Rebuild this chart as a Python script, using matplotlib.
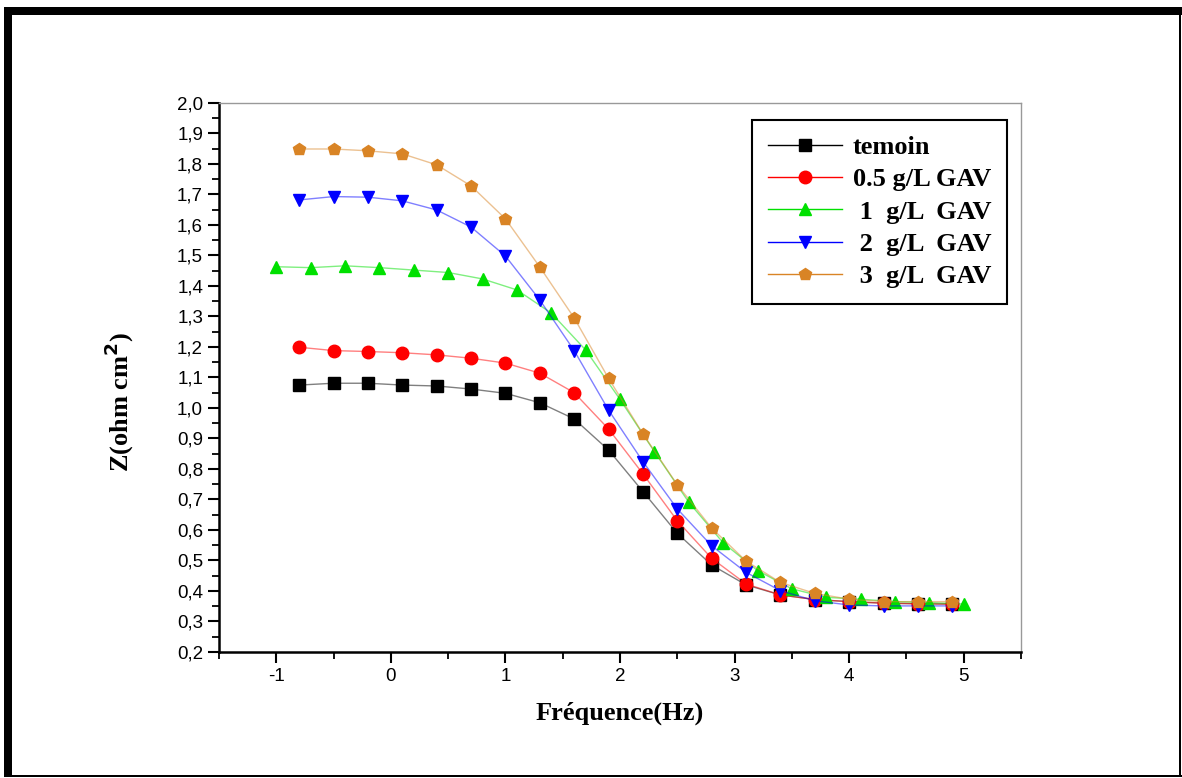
import matplotlib
matplotlib.use("Agg")
import matplotlib.pyplot as plt
from matplotlib.patches import Rectangle
from matplotlib.ticker import MultipleLocator, FuncFormatter

# frequency (log) positions
freq_a = [-0.8, -0.5, -0.2, 0.1, 0.4, 0.7, 1.0, 1.3, 1.6, 1.9,
          2.2, 2.5, 2.8, 3.1, 3.4, 3.7, 4.0, 4.3, 4.6, 4.9]
freq_b = [-1.0, -0.7, -0.4, -0.1, 0.2, 0.5, 0.8, 1.1, 1.4, 1.7, 2.0,
          2.3, 2.6, 2.9, 3.2, 3.5, 3.8, 4.1, 4.4, 4.7, 5.0]

z_temoin = [1.075, 1.081, 1.081, 1.075, 1.072, 1.062, 1.048, 1.017, 0.964, 0.862,
            0.726, 0.589, 0.485, 0.420, 0.387, 0.372, 0.365, 0.360, 0.358, 0.357]
z_05 = [1.199, 1.188, 1.185, 1.181, 1.174, 1.163, 1.147, 1.114, 1.050, 0.931,
        0.784, 0.630, 0.507, 0.423, 0.387, 0.372, 0.365, 0.360, 0.358, 0.357]
z_1 = [1.463, 1.460, 1.466, 1.460, 1.452, 1.444, 1.423, 1.387, 1.311, 1.190, 1.028,
       0.857, 0.691, 0.558, 0.467, 0.407, 0.379, 0.373, 0.365, 0.362, 0.357]
z_2 = [1.682, 1.693, 1.691, 1.679, 1.649, 1.593, 1.498, 1.354, 1.188, 0.993,
       0.824, 0.669, 0.548, 0.461, 0.401, 0.368, 0.354, 0.351, 0.351, 0.351]
z_3 = [1.849, 1.849, 1.843, 1.833, 1.797, 1.728, 1.620, 1.462, 1.295, 1.097,
       0.915, 0.748, 0.606, 0.498, 0.428, 0.392, 0.373, 0.365, 0.365, 0.365]

labels = ["temoin", "0.5 g/L GAV", " 1  g/L  GAV", " 2  g/L  GAV", " 3  g/L  GAV"]

fig = plt.figure(figsize=(11.82, 7.78), dpi=100)
ax = fig.add_axes([0.1853, 0.1620, 0.6785, 0.7057])

series = [
    (freq_a, z_temoin, "#000000", "s"),
    (freq_a, z_05, "#ff0000", "o"),
    (freq_b, z_1, "#00e000", "^"),
    (freq_a, z_2, "#0000ff", "v"),
    (freq_a, z_3, "#d98425", "p"),
]
handles = []
for (x, y, c, m), lab in zip(series, labels):
    ax.plot(x, y, "-", color=c, lw=1.0, alpha=0.5)
    ax.plot(x, y, m, color=c, ms=9, mec=c, ls="none")
    h, = ax.plot([], [], "-", color=c, lw=1.0, marker=m, ms=9, mec=c)
    handles.append(h)

ax.set_xlim(-1.5, 5.5)
ax.set_ylim(0.2, 2.0)
ax.xaxis.set_major_locator(MultipleLocator(1))
ax.xaxis.set_minor_locator(MultipleLocator(0.5))
ax.yaxis.set_major_locator(MultipleLocator(0.1))
ax.yaxis.set_minor_locator(MultipleLocator(0.05))
ax.yaxis.set_major_formatter(FuncFormatter(lambda v, p: f"{v:.1f}".replace(".", ",")))
ax.xaxis.set_major_formatter(FuncFormatter(lambda v, p: f"{v:g}"))

ax.tick_params(which="major", direction="out", length=8, width=1.5,
               labelsize=13.5, top=False, right=False)
ax.tick_params(which="minor", direction="out", length=5, width=1.3,
               top=False, right=False)
for t in ax.get_xticklabels() + ax.get_yticklabels():
    t.set_family("Liberation Sans")

for s in ["left", "bottom"]:
    ax.spines[s].set_linewidth(1.8)
    ax.spines[s].set_color("black")
for s in ["top", "right"]:
    ax.spines[s].set_linewidth(1.0)
    ax.spines[s].set_color("#999999")

ax.set_xlabel("Fréquence(Hz)", family="Liberation Serif", fontweight="bold",
              fontsize=19, labelpad=12)
ax.set_ylabel("Z(ohm cm$^\\mathbf{2}$)", family="Liberation Serif", fontweight="bold",
              fontsize=19)
ax.yaxis.set_label_coords(-0.103, 0.455)

leg = ax.legend(handles, labels, loc="upper right", bbox_to_anchor=(0.9825, 0.969),
                prop={"family": "Liberation Serif", "weight": "bold", "size": 19},
                frameon=True, fancybox=False, framealpha=1, edgecolor="black",
                handlelength=2.8, labelspacing=0.33, borderpad=0.6,
                handletextpad=0.4, borderaxespad=0)
leg.get_frame().set_linewidth(1.5)

# outer page frame
W, H = 1182, 778
fig.add_artist(Rectangle((4 / W, 1 / H), 8 / W, 770 / H, transform=fig.transFigure,
                         color="black", lw=0))
fig.add_artist(Rectangle((4 / W, 763 / H), 1178 / W, 8 / H, transform=fig.transFigure,
                         color="black", lw=0))
fig.add_artist(Rectangle((1179 / W, 1 / H), 2 / W, 770 / H, transform=fig.transFigure,
                         color="black", lw=0))
fig.add_artist(Rectangle((4 / W, 1 / H), 1178 / W, 2 / H, transform=fig.transFigure,
                         color="black", lw=0))

fig.savefig("out.png", dpi=100)
